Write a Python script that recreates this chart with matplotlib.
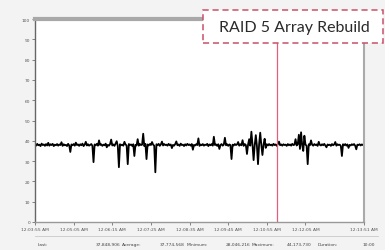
import numpy as np
import matplotlib
matplotlib.use("Agg")
import matplotlib.pyplot as plt
from matplotlib.patches import Rectangle

# sampled every 2 seconds from 12:03:55 AM
values = [
    38.3, 37.6, 38.5, 37.8, 38.1, 37.4, 38.6, 37.9, 38.2, 37.5, 38.4, 37.7, 39.0, 37.6, 38.3, 37.9, 38.5, 37.4, 38.1, 37.8,
    38.4, 37.6, 38.2, 37.9, 39.3, 37.5, 38.3, 37.8, 38.0, 37.4, 38.5, 37.7, 34.5, 38.2, 37.8, 38.4, 37.6, 39.1, 37.9, 38.2,
    37.5, 38.3, 37.8, 38.6, 37.4, 38.1, 39.5, 37.7, 38.3, 37.6, 38.0, 38.4, 37.5, 29.5, 38.2, 37.8, 38.5, 37.6, 40.2, 37.9,
    38.3, 37.5, 38.1, 37.8, 38.6, 36.8, 38.0, 37.6, 38.4, 40.6, 37.7, 38.2, 37.5, 38.6, 39.8, 37.4, 27.0, 38.3, 37.8, 38.1,
    37.6, 39.5, 38.2, 37.7, 28.5, 38.4, 37.9, 38.2, 37.5, 38.3, 32.5, 38.0, 37.7, 40.8, 37.6, 38.4, 37.9, 38.1, 43.5, 37.4,
    38.5, 31.0, 38.2, 37.7, 38.4, 37.9, 39.4, 38.1, 37.6, 24.5, 38.3, 37.8, 38.5, 37.5, 38.2, 39.6, 37.7, 38.4, 37.9, 38.1,
    37.6, 38.5, 37.8, 38.2, 36.4, 38.0, 37.6, 38.4, 39.7, 37.8, 38.2, 37.5, 38.6, 37.9, 38.1, 37.4, 38.3, 37.7, 38.5, 37.9,
    38.2, 37.6, 38.4, 35.6, 38.0, 37.7, 38.3, 37.9, 41.2, 37.5, 38.2, 37.8, 38.4, 37.6, 38.1, 37.9, 38.5, 37.4, 38.2, 37.8,
    38.4, 37.6, 42.0, 37.9, 38.2, 37.5, 38.3, 36.0, 37.9, 38.4, 37.6, 38.1, 41.5, 37.8, 38.3, 37.5, 38.2, 37.9, 31.0, 38.1,
    37.7, 38.4, 37.9, 38.2, 39.4, 37.6, 38.3, 37.8, 40.3, 37.5, 38.4, 37.9, 33.5, 38.2, 40.8, 37.6, 44.5, 38.1, 30.5, 37.8,
    42.8, 37.5, 28.5, 38.3, 44.0, 37.9, 33.0, 38.2, 41.0, 36.5, 38.3, 37.7, 38.4, 37.8, 38.1, 37.6, 38.5, 37.9, 38.2, 37.5,
    38.4, 39.6, 37.8, 38.2, 37.6, 38.3, 37.9, 38.1, 37.5, 38.4, 37.8, 38.2, 37.6, 38.5, 37.9, 38.1, 40.8, 37.7, 38.3, 43.0,
    36.0, 44.2, 37.9, 35.0, 42.5, 38.1, 37.6, 28.5, 38.3, 37.8, 40.2, 38.1, 37.6, 38.4, 37.9, 38.2, 37.5, 39.5, 38.0, 37.7,
    38.3, 37.8, 38.5, 37.6, 36.8, 38.2, 37.9, 38.1, 37.5, 38.4, 37.8, 38.2, 39.4, 37.6, 38.3, 37.9, 38.1, 37.5, 32.5, 38.3,
    37.8, 38.4, 37.6, 38.2, 36.5, 38.0, 37.7, 38.3, 37.9, 38.4, 37.6, 35.8, 38.1, 37.9, 38.3, 37.7, 38.2, 37.9, 38.5, 38.0,
]
seconds = np.arange(0, 2 * len(values), 2)

tick_secs = [0, 70, 140, 210, 280, 350, 420, 490, 596]
tick_labels = ["12:03:55 AM", "12:05:05 AM", "12:06:15 AM", "12:07:25 AM",
               "12:08:35 AM", "12:09:45 AM", "12:10:55 AM", "12:12:05 AM",
               "12:13:51 AM"]
rebuild_sec = 438

stat_names = ["Last:", "Average:", "Minimum:", "Maximum:", "Duration:"]
stat_values = ["37,848,906", "37,774,568", "28,046,216", "44,173,730", "10:00"]

fig = plt.figure(figsize=(3.85, 2.51), dpi=100, facecolor="#f3f3f3")
ax = fig.add_axes([35 / 385, 28 / 251, 329 / 385, 203 / 251])
ax.set_facecolor("white")

ax.plot(seconds, values, color="black", lw=1.3)
ax.axvline(rebuild_sec, color="#e0607a", lw=0.9)

ax.set_xlim(0, 596)
ax.set_ylim(0, 100)
ax.set_yticks(range(0, 101, 10))
ax.set_xticks(tick_secs)
ax.set_xticklabels(tick_labels)
ax.tick_params(labelsize=3.2, colors="#555555", length=2, width=0.5, pad=1.5)

ax.spines["left"].set_color("#666666")
ax.spines["left"].set_linewidth(1.0)
ax.spines["top"].set_color("#a8a8a8")
ax.spines["top"].set_linewidth(3)
ax.spines["right"].set_color("#aaaaaa")
ax.spines["right"].set_linewidth(1.5)
ax.spines["bottom"].set_color("#999999")
ax.spines["bottom"].set_linewidth(1.0)

# stats bar at the bottom
fig.add_artist(plt.Line2D([35 / 385, 378 / 385], [14 / 251, 14 / 251],
                          color="#c8c8c8", lw=0.6))
name_x = [38, 122, 187, 252, 318]
val_x = [120, 185, 250, 312, 375]
for nm, vx, nx, v in zip(stat_names, val_x, name_x, stat_values):
    fig.text(nx / 385, 6 / 251, nm, fontsize=3.2, color="#444444", va="center")
    fig.text(vx / 385, 6 / 251, v, fontsize=3.2, color="#444444",
             va="center", ha="right")

# annotation box
box = Rectangle((203 / 385, (251 - 44) / 251), 180 / 385, 33 / 251,
                transform=fig.transFigure, facecolor="white",
                edgecolor="#c8506a", lw=1.1, ls=(0, (4, 2.5)), zorder=5)
fig.add_artist(box)
fig.text(294 / 385, (251 - 28) / 251, "RAID 5 Array Rebuild", fontsize=11.5,
         family="Lato", color="#2a2a2a", ha="center", va="center", zorder=6)

fig.savefig("out.png", dpi=100, facecolor=fig.get_facecolor())
